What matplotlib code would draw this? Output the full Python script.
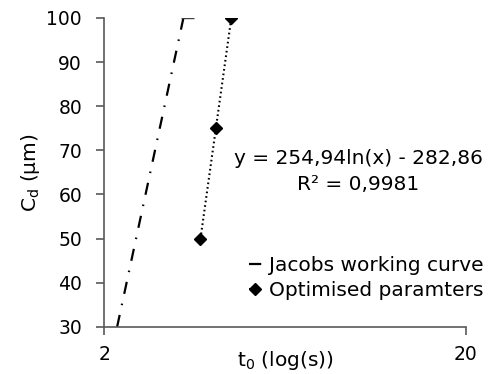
import numpy as np
import matplotlib.pyplot as plt
from matplotlib.path import Path
from matplotlib.ticker import FixedLocator, NullLocator

plt.rcParams['font.family'] = ['DejaVu Sans']

# Jacobs working curve (start / end of the straight line in log-x)
jacobs_t = [2.17, 3.31]
jacobs_c = [30, 100]

# Optimised parameters
opt_t = [3.69, 4.07, 4.49]
opt_c = [50, 75, 100]

fit_text = "y = 254,94ln(x) - 282,86\nR² = 0,9981"

fig = plt.figure(figsize=(4.92, 3.74), dpi=100)
ax = fig.add_axes([0.212, 0.126, 0.735, 0.826])

ax.plot(jacobs_t, jacobs_c, color='black', lw=1.6,
        linestyle=(0, (5.5, 4.5, 0.7, 4.5)), label='Jacobs working curve')
# end cap of the working curve drawn just to the right of the last point
cap = Path([(-0.15, 0), (1, 0)], [Path.MOVETO, Path.LINETO])
ax.plot(jacobs_t[-1:], jacobs_c[-1:], marker=cap, markersize=16,
        markeredgewidth=1, color='#404040', linestyle='none')
ax.plot(opt_t, opt_c, color='black', lw=1.5, linestyle=(0, (0.8, 1.4)),
        marker='D', markersize=5.8, label='Optimised paramters')

ax.set_xscale('log')
ax.set_xlim(2, 20)
ax.set_ylim(30, 100)
ax.xaxis.set_major_locator(FixedLocator([2, 20]))
ax.xaxis.set_minor_locator(NullLocator())
ax.set_xticklabels(['2', '20'])
ax.set_yticks(range(30, 101, 10))

for s in ['top', 'right']:
    ax.spines[s].set_visible(False)
for s in ['left', 'bottom']:
    ax.spines[s].set_color('#595959')
    ax.spines[s].set_linewidth(1.2)
ax.tick_params(axis='both', colors='#595959', labelcolor='black',
               labelsize=13.5, length=6, width=1.2)
ax.tick_params(axis='y', pad=10)
ax.tick_params(axis='x', pad=7)

ax.set_ylabel('C$_\\mathregular{d}$ (µm)', fontsize=14.5)
ax.yaxis.set_label_coords(-0.172, 0.5)
ax.set_xlabel('t$_\\mathregular{0}$ (log(s))', fontsize=14.5)
ax.xaxis.set_label_coords(0.5, -0.07)

ax.text(0.703, 0.575, fit_text, transform=ax.transAxes, ha='center',
        va='top', fontsize=14.5, linespacing=1.45)

leg = ax.legend(loc='lower right', bbox_to_anchor=(1.07, 0.06), frameon=False,
                fontsize=14.5, handlelength=0.6, handletextpad=0.35,
                labelspacing=0.3, borderaxespad=0)

fig.savefig('out.png', dpi=100)
